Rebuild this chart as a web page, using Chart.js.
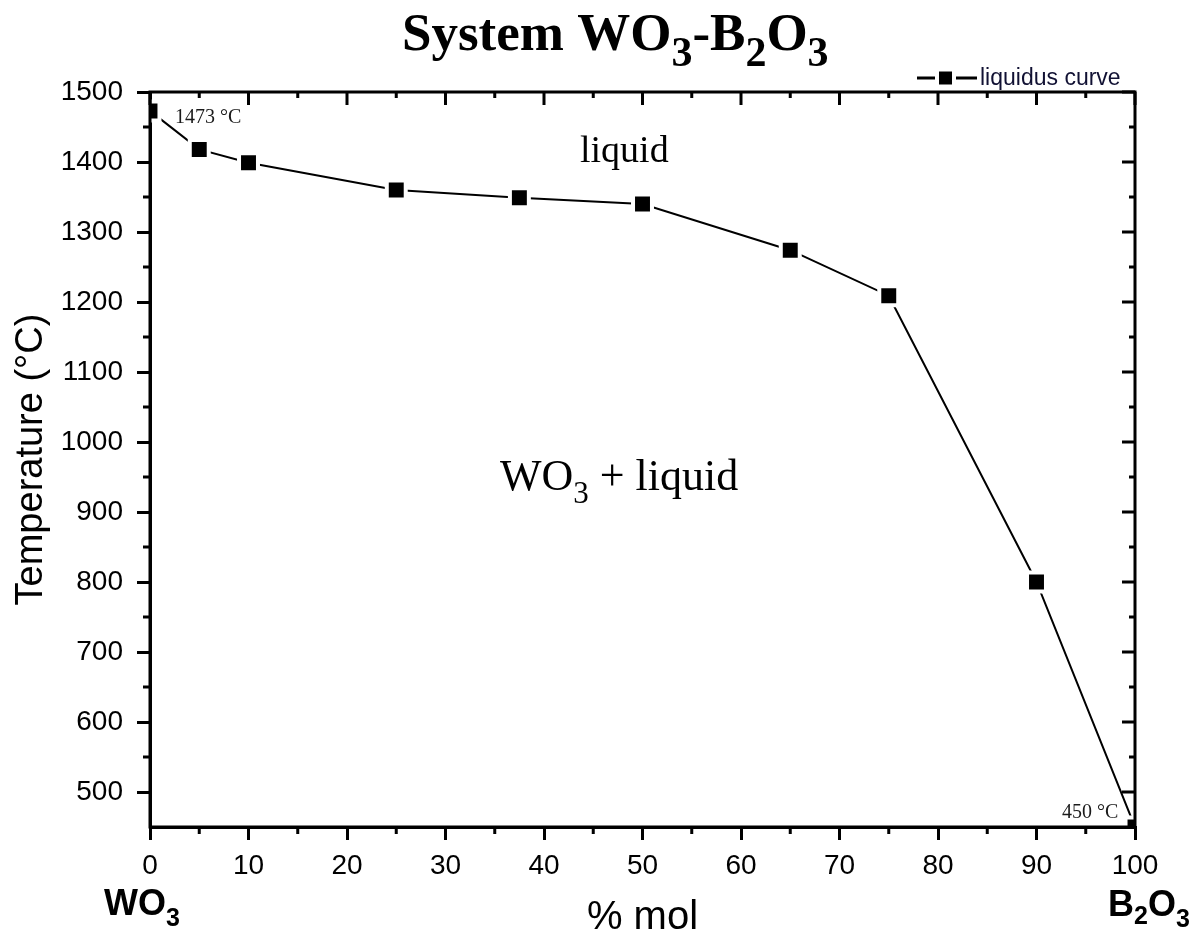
<!DOCTYPE html>
<html>
<head>
<meta charset="utf-8">
<title>System WO3-B2O3</title>
<script src="https://cdn.jsdelivr.net/npm/chart.js@4.4.1/dist/chart.umd.min.js"></script>
<style>
  html, body { margin: 0; padding: 0; background: #fff; }
  #wrap { width: 1204px; height: 938px; position: relative; }
</style>
</head>
<body>
<div id="wrap"><canvas id="phaseChart"></canvas></div>
<script>
// Liquidus data
const molPct = [0, 5, 10, 25, 37.5, 50, 65, 75, 90, 100];
const tempC = [1473, 1418, 1399, 1360, 1349, 1340, 1274, 1209, 800, 450];
const xTicks = [0, 10, 20, 30, 40, 50, 60, 70, 80, 90, 100];
const yTicks = [500, 600, 700, 800, 900, 1000, 1100, 1200, 1300, 1400, 1500];

const SANS = '"Liberation Sans", Arial, sans-serif';
const SERIF = '"Liberation Serif", "Times New Roman", serif';

// draw a run of text pieces (used for subscripts)
function drawParts(ctx, x, y, parts) {
  parts.forEach(p => {
    ctx.font = p[1];
    ctx.fillText(p[0], x, y + (p[2] || 0));
    x += ctx.measureText(p[0]).width;
  });
  return x;
}

// frame, minor/inward ticks, labels and legend
const extras = {
  id: 'extras',
  afterDraw(chart) {
    const ctx = chart.ctx;
    const a = chart.chartArea;
    const xs = chart.scales.x, ys = chart.scales.y;
    ctx.save();
    ctx.strokeStyle = '#000';
    ctx.lineWidth = 3;
    ctx.lineCap = 'butt';

    // box
    ctx.strokeRect(a.left, a.top, a.right - a.left, a.bottom - a.top);

    // x ticks: bottom minor outward, top inward
    ctx.beginPath();
    for (let v = 0; v <= 100; v += 5) {
      const px = xs.getPixelForValue(v);
      const major = v % 10 === 0;
      if (!major) {
        ctx.moveTo(px, a.bottom);
        ctx.lineTo(px, a.bottom + 7);
      }
      ctx.moveTo(px, a.top);
      ctx.lineTo(px, a.top + (major ? 13 : 6));
    }
    // y ticks: left minor outward, right inward
    for (let v = 500; v <= 1500; v += 50) {
      const py = ys.getPixelForValue(v);
      const major = v % 100 === 0;
      if (!major) {
        ctx.moveTo(a.left, py);
        ctx.lineTo(a.left - 7, py);
      }
      ctx.moveTo(a.right, py);
      ctx.lineTo(a.right - (major ? 13 : 6), py);
    }
    ctx.stroke();

    ctx.fillStyle = '#000';
    ctx.textBaseline = 'alphabetic';
    ctx.textAlign = 'left';

    // title
    drawParts(ctx, 402, 50, [
      ['System WO', 'bold 53px ' + SERIF],
      ['3', 'bold 42px ' + SERIF, 16],
      ['-B', 'bold 53px ' + SERIF],
      ['2', 'bold 42px ' + SERIF, 16],
      ['O', 'bold 53px ' + SERIF],
      ['3', 'bold 42px ' + SERIF, 16]
    ]);

    // end members under the x axis
    drawParts(ctx, 104, 915, [
      ['WO', 'bold 36px ' + SANS],
      ['3', 'bold 25px ' + SANS, 11]
    ]);
    drawParts(ctx, 1108, 916, [
      ['B', 'bold 36px ' + SANS],
      ['2', 'bold 25px ' + SANS, 8],
      ['O', 'bold 36px ' + SANS],
      ['3', 'bold 25px ' + SANS, 11]
    ]);

    // phase fields
    drawParts(ctx, 580, 162, [['liquid', '38px ' + SERIF]]);
    drawParts(ctx, 500, 490, [
      ['WO', '44px ' + SERIF],
      ['3', '31px ' + SERIF, 13],
      [' + liquid', '44px ' + SERIF]
    ]);

    // end point labels
    ctx.fillStyle = '#1a1a1a';
    drawParts(ctx, 175, 123, [['1473 °C', '20px ' + SERIF]]);
    drawParts(ctx, 1062, 818, [['450 °C', '20px ' + SERIF]]);

    // legend
    const ly = 78;
    ctx.lineWidth = 3;
    ctx.beginPath();
    ctx.moveTo(917, ly); ctx.lineTo(935, ly);
    ctx.moveTo(956, ly); ctx.lineTo(977, ly);
    ctx.stroke();
    ctx.fillStyle = '#000';
    ctx.fillRect(939, ly - 6.5, 13, 13);
    ctx.fillStyle = '#111133';
    drawParts(ctx, 980, 85, [['liquidus curve', '23px ' + SANS]]);

    ctx.restore();
  }
};

const ctx = document.getElementById('phaseChart').getContext('2d');
new Chart(ctx, {
  type: 'line',
  data: {
    datasets: [{
      label: 'liquidus curve',
      data: molPct.map((x, i) => ({ x: x, y: tempC[i] })),
      borderColor: '#000',
      borderWidth: 2,
      tension: 0,
      pointStyle: 'rect',
      pointRadius: 13.4,
      pointBackgroundColor: '#000',
      pointBorderColor: '#fff',
      pointBorderWidth: 4,
      clip: 0
    }]
  },
  options: {
    responsive: true,
    maintainAspectRatio: false,
    animation: false,
    events: [],
    layout: { padding: { left: 0, top: 92, right: 69, bottom: 0 } },
    plugins: {
      legend: { display: false },
      tooltip: { enabled: false }
    },
    scales: {
      x: {
        type: 'linear',
        min: 0,
        max: 100,
        afterBuildTicks: s => { s.ticks = xTicks.map(v => ({ value: v })); },
        afterFit: s => { s.height = 111; },
        ticks: { color: '#000', font: { family: SANS, size: 28 }, padding: 9, maxRotation: 0, callback: v => String(v) },
        grid: { drawOnChartArea: false, color: '#000', lineWidth: 3, tickLength: 13 },
        border: { color: '#000', width: 3 },
        title: { display: true, text: '% mol', color: '#000', font: { family: SANS, size: 40, lineHeight: 1 }, padding: { top: 0, bottom: 0 } }
      },
      y: {
        type: 'linear',
        min: 450,
        max: 1500,
        afterBuildTicks: s => { s.ticks = yTicks.map(v => ({ value: v })); },
        afterFit: s => { s.width = 150; },
        ticks: { color: '#000', font: { family: SANS, size: 28 }, padding: 14, callback: v => String(v) },
        grid: { drawOnChartArea: false, color: '#000', lineWidth: 3, tickLength: 13 },
        border: { color: '#000', width: 3 },
        title: { display: true, text: 'Temperature (°C)', color: '#000', font: { family: SANS, size: 38, lineHeight: 1 }, padding: { top: 13, bottom: 0 } }
      }
    }
  },
  plugins: [extras]
});
</script>
</body>
</html>
